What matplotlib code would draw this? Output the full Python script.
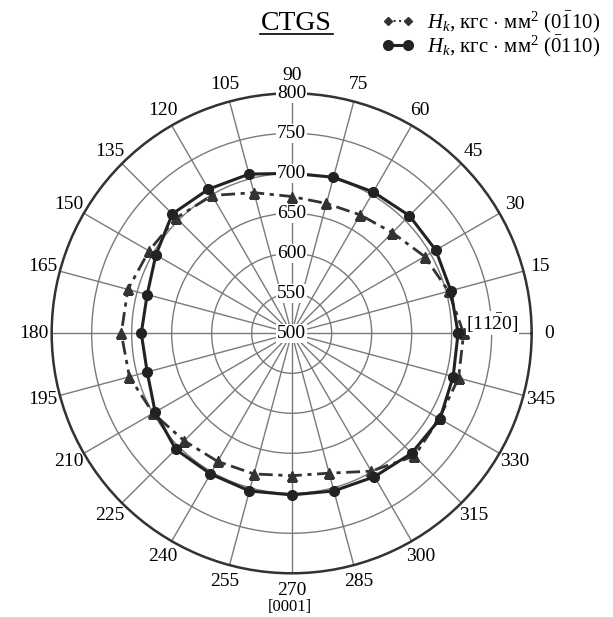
import numpy as np
import matplotlib.pyplot as plt
from matplotlib.lines import Line2D

plt.rcParams['font.family'] = ['Liberation Serif', 'DejaVu Serif']
plt.rcParams['mathtext.fontset'] = 'custom'
plt.rcParams['mathtext.rm'] = 'Liberation Serif'
plt.rcParams['mathtext.it'] = 'Liberation Serif:italic'

angles_deg = [0, 15, 30, 45, 60, 75, 90, 105, 120, 135, 150, 165,
              180, 195, 210, 225, 240, 255, 270, 285, 300, 315, 330, 345]
hk_0110 = [715, 703, 692, 678, 671, 668, 671, 682, 699, 704, 706, 712,
           713, 710, 700, 690, 685, 682, 678, 681, 699, 717, 713, 716]
hk_0bar110 = [708, 706, 708, 708, 704, 702, 700, 706, 708, 711, 696, 687,
              688, 687, 697, 705, 703, 704, 702, 704, 707, 712, 714, 709]
r_ticks = [500, 550, 600, 650, 700, 750, 800]

theta = np.deg2rad(angles_deg + [angles_deg[0]])
y1 = hk_0110 + [hk_0110[0]]
y2 = hk_0bar110 + [hk_0bar110[0]]

fig = plt.figure(figsize=(6.13, 6.17), dpi=100)
ax = fig.add_axes([0.0843, 0.0708, 0.783, 0.778], projection='polar')

ax.set_ylim(500, 800)
ax.set_yticks(r_ticks)
ax.set_yticklabels([])
ax.set_thetagrids(angles_deg, [str(a) for a in angles_deg], fontsize=14)
ax.xaxis.set_tick_params(pad=2)
ax.grid(True, color='#7a7a7a', linewidth=1.0)
ax.spines['polar'].set_color('#333333')
ax.spines['polar'].set_linewidth(1.8)

ax.plot(theta, y1, color='#333333', linestyle=(0, (5, 2, 1.5, 2)), linewidth=2.0,
        marker='^', markersize=7, zorder=3)
ax.plot(theta, y2, color='#222222', linestyle='-', linewidth=2.2,
        marker='o', markersize=7, zorder=4)

for r in r_ticks:
    ax.text(np.pi / 2, r, str(r), ha='center', va='center', fontsize=14,
            bbox=dict(facecolor='white', edgecolor='none', pad=0.5), zorder=5)

ax.text(np.deg2rad(2.9), 751, r'[11$\bar{2}$0]', ha='center', va='center', fontsize=14,
        zorder=5, bbox=dict(facecolor='white', edgecolor='none', pad=0.3))
fig.text(0.4735, 0.0155, '[0001]', ha='center', va='center', fontsize=12)

# title with underline
fig.text(0.483, 0.962, 'CTGS', ha='center', va='center', fontsize=20)
fig.add_artist(Line2D([0.424, 0.543], [0.945, 0.945], color='black', linewidth=1.2))

handles = [
    Line2D([], [], color='#333333', linestyle=':', linewidth=1.5, marker='D', markersize=4),
    Line2D([], [], color='#222222', linestyle='-', linewidth=2.2, marker='o', markersize=7),
]
labels = [r'$H_k$, кгс $\cdot$ мм$^2$ (0$\bar{1}$10)',
          r'$H_k$, кгс $\cdot$ мм$^2$ ($\bar{0}$110)']
fig.legend(handles, labels, loc='upper right', bbox_to_anchor=(1.01, 1.015),
           frameon=False, fontsize=15, handlelength=1.6, handletextpad=0.6,
           labelspacing=-0.08, numpoints=2)

fig.savefig('out.png', dpi=100)
